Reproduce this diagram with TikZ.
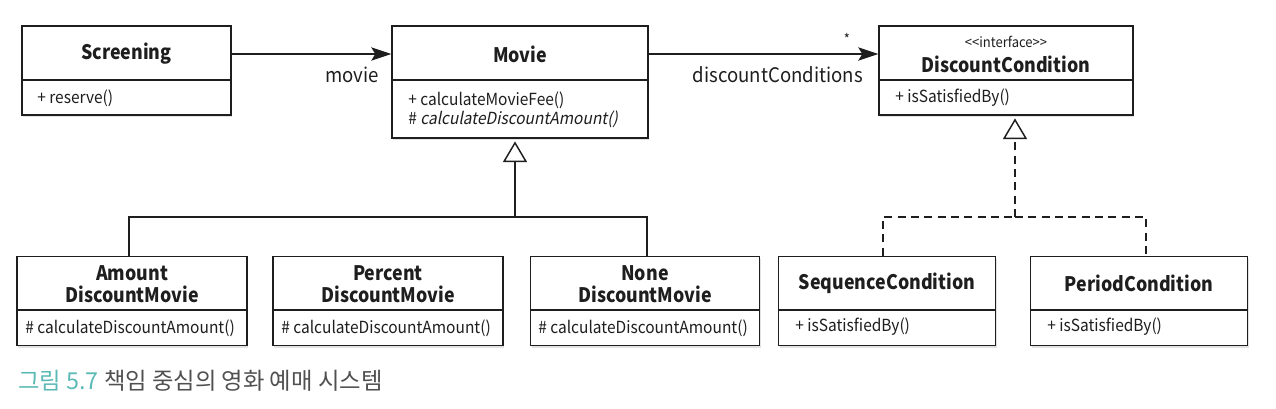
\documentclass[tikz,border=0pt]{standalone}
\usepackage{fontspec}
\setmainfont{Noto Sans CJK KR}[AutoFakeSlant=0.2, FakeStretch=0.93]
\newfontfamily\titlefont{Noto Sans CJK KR}[FakeStretch=0.89]
\newfontfamily\capfont{Noto Sans CJK KR}
\usetikzlibrary{arrows.meta,shadows,calc}
\definecolor{capteal}{HTML}{5BBAB5}
\definecolor{capgray}{HTML}{505050}
\definecolor{ink}{HTML}{1E1E1E}
\begin{document}
\begin{tikzpicture}[x=0.75pt,y=-0.75pt,
  wh/.style 2 args={minimum width=#1*0.75pt, minimum height=#2*0.75pt},
  cls/.style={draw=ink, line width=1.1pt, fill=white, inner sep=0pt,
    drop shadow={opacity=0.22, shadow xshift=0.8pt, shadow yshift=-1.8pt}},
  divline/.style={draw=ink, line width=1.1pt},
  ttl/.style={font=\fontsize{15}{16.5}\selectfont\titlefont\bfseries, text=ink, inner sep=0pt, align=center},
  mth/.style={font=\fontsize{12.5}{15}\selectfont, text=ink, anchor=west, inner sep=0pt},
  stereo/.style={font=\fontsize{10.5}{12}\selectfont, text=ink, inner sep=0pt},
  lbl/.style={font=\fontsize{15}{18}\selectfont, text=ink, inner sep=0pt},
  assoc/.style={draw=ink, line width=1.1pt, -{Stealth[length=15pt, width=10pt, inset=3pt]}},
  gen/.style={draw=ink, line width=1.1pt, -{Triangle[open, length=15.5pt, width=18pt, fill=white]}, shorten >=2pt},
  plainline/.style={draw=ink, line width=1.1pt},
  dashline/.style={draw=ink, line width=1.1pt, dash pattern=on 6pt off 4pt},
  real/.style={dashline, -{Triangle[open, length=15.5pt, width=18pt, fill=white]}, shorten >=2pt}
]
\useasboundingbox (0,0) rectangle (1276,408);

% ---------- top row ----------
\node[cls, wh={209}{89}] (screening) at (126.5,70.5) {};
\draw[divline] (screening.west |- 0,80) -- (screening.east |- 0,80);
\node[ttl] (scrT) at (126.5,54) {Screening};
\node[mth] (scrM) at (37,98) {+ reserve()};

\node[cls, wh={256}{112}] (movie) at (520,82) {};
\draw[divline] (movie.west |- 0,80) -- (movie.east |- 0,80);
\node[ttl] (movT) at (520,54) {Movie};
\node[mth] (movM1) at (408,100) {+ calculateMovieFee()};
\node[mth] (movM2) at (408,119) {\# \textit{calculateDiscountAmount()}};

\node[cls, wh={254}{89}] (dc) at (1006,70.5) {};
\draw[divline] (dc.west |- 0,80) -- (dc.east |- 0,80);
\node[stereo] (dcS) at (1006,42) {<{}<interface>{}>};
\node[ttl] (dcT) at (1006,64.5) {DiscountCondition};
\node[mth] (dcM) at (895,98) {+ isSatisfiedBy()};

% ---------- associations ----------
\draw[assoc] (screening.east |- scrT) -- (movie.west |- scrT);
\node[lbl, anchor=east] (lmovie) at (379,75) {movie};
\draw[assoc] (movie.east |- movT) -- (dc.west |- movT);
\node[lbl, anchor=east] (ldc) at (863,75) {discountConditions};
\node[stereo] (star) at (847,39) {*};

% ---------- bottom row ----------
\node[cls, wh={230}{89}] (amount) at (132,301) {};
\draw[divline] (amount.west |- 0,310) -- (amount.east |- 0,310);
\node[ttl] (amtT) at (132,284) {Amount\\DiscountMovie};
\node[mth] (amtM) at (25,328) {\# calculateDiscountAmount()};

\node[cls, wh={230}{89}] (percent) at (388,301) {};
\draw[divline] (percent.west |- 0,310) -- (percent.east |- 0,310);
\node[ttl] (perT) at (388,284) {Percent\\DiscountMovie};
\node[mth] (perM) at (281,328) {\# calculateDiscountAmount()};

\node[cls, wh={229}{89}] (none) at (645,301) {};
\draw[divline] (none.west |- 0,310) -- (none.east |- 0,310);
\node[ttl] (nonT) at (645,284) {None\\DiscountMovie};
\node[mth] (nonM) at (538,328) {\# calculateDiscountAmount()};

\node[cls, wh={217}{89}] (seq) at (887,301) {};
\draw[divline] (seq.west |- 0,310) -- (seq.east |- 0,310);
\node[ttl] (seqT) at (887,283) {SequenceCondition};
\node[mth] (seqM) at (795,327) {+ isSatisfiedBy()};

\node[cls, wh={217}{89}] (period) at (1139,301) {};
\draw[divline] (period.west |- 0,310) -- (period.east |- 0,310);
\node[ttl] (pdT) at (1139,283) {PeriodCondition};
\node[mth] (pdM) at (1047,327) {+ isSatisfiedBy()};

% ---------- generalization ----------
\coordinate (gj) at (515,217);
\draw[gen] (gj) -- (gj |- movie.south);
\draw[plainline] ($(amount.north)+(-3,0)$) |- (gj);
\draw[plainline] (gj) -| ($(none.north)+(2,0)$);
\draw[plainline] ($(percent.north)+(3,0)$) -- ($(percent.north)+(3,0)$ |- gj);

% ---------- realization ----------
\coordinate (rj) at (1015,217);
\draw[real] (rj) -- (rj |- dc.south);
\draw[dashline] ($(seq.north)+(-4,0)$) |- (rj);
\draw[dashline] (rj) -| ($(period.north)+(7,0)$);

% ---------- caption ----------
\node[anchor=west, inner sep=0pt, font=\fontsize{17.5}{20}\selectfont\capfont] (cap) at (18,381)
  {\textcolor{capteal}{그림 5.7}\ \textcolor{capgray}{책임 중심의 영화 예매 시스템}};
\end{tikzpicture}
\end{document}
